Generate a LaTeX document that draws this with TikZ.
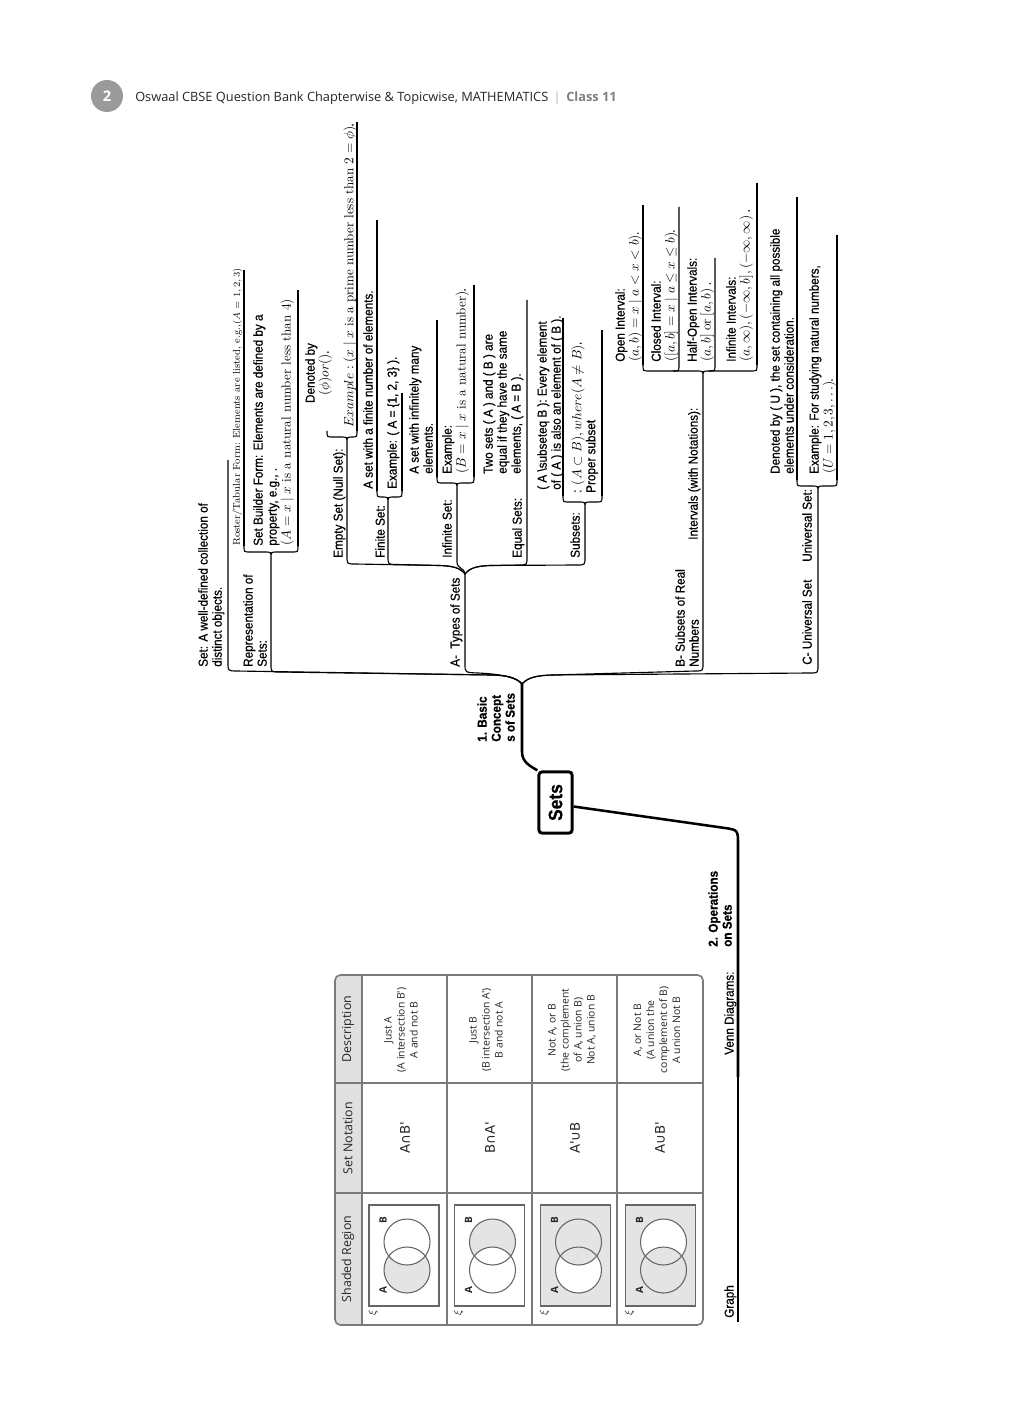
\documentclass[tikz,border=0pt]{standalone}
\usepackage[no-math]{fontspec}
\newfontfamily\mmfam{Liberation Sans}[FakeStretch=0.9,FakeBold=0.5]
\newfontfamily\osans{Open Sans}
\newfontfamily\dvs{DejaVu Sans}
\newcommand\mmf{\mmfam\fontsize{9.75}{10.5}\selectfont}
\definecolor{tline}{HTML}{7A7A7A}
\definecolor{hdrfill}{HTML}{E0E0E0}
\definecolor{vfill}{HTML}{E4E4E4}
\definecolor{vline}{HTML}{666666}
\definecolor{hcirc}{HTML}{9A9A9A}
\newcommand\mybrace[4]{\draw[ln] (#1,#4-6) .. controls (#1,#4) .. (#1+6,#4) -- (#3-6,#4) .. controls (#3,#4) .. (#3,#4+6) .. controls (#3,#4) .. (#3+6,#4) -- (#2-6,#4) .. controls (#2,#4) .. (#2,#4-6);}
\begin{document}
\begin{tikzpicture}[x=0.75pt,y=-0.75pt,
  ln/.style={line width=0.85pt},
  thk/.style={line width=1.9pt},
  txt/.style={rotate=90,anchor=north west,align=left,inner sep=0pt,font=\mmf},
  hd/.style={rotate=90,anchor=center,inner sep=0pt,font=\osans\fontsize{9.3}{11}\selectfont,text=black!85},
  ds/.style={rotate=90,anchor=center,align=center,inner sep=0pt,font=\osans\fontsize{7.8}{9.75}\selectfont,text=black!85},
  sn/.style={rotate=90,anchor=center,inner sep=0pt,font=\dvs\fontsize{10}{12}\selectfont,text=black!85},
  vl/.style={rotate=90,anchor=center,inner sep=0pt,font=\osans\bfseries\fontsize{7.5}{8}\selectfont,text=black!85},
  vbox/.style={draw=vline,line width=1pt},
  vcirc/.style={draw=vline,line width=0.8pt}]
\fill[white] (0,0) rectangle (1024,1408);
\useasboundingbox (0,0) rectangle (1024,1408);

% ---------- page header ----------
\fill[hcirc] (107,96) circle[radius=12pt];
\node[font=\osans\bfseries\fontsize{11}{13}\selectfont,text=white] (pg) at (107,96) {2};
\node[anchor=base west,inner sep=0pt,font=\osans\fontsize{9.6}{11}\selectfont,text=black!85] (title) at (135,102)
  {Oswaal CBSE Question Bank Chapterwise \& Topicwise, MATHEMATICS {\color{black!30}\,|\,} {\color{black!50}\bfseries Class 11}};

% ---------- central node ----------
\node[draw,line width=2.2pt,rounded corners=2.5pt,rotate=90,minimum width=46pt,minimum height=25pt,inner sep=0pt,
  font=\mmfam\bfseries\fontsize{14.5}{16}\selectfont] (sets) at (555.5,802.5) {Sets};

% ---------- branch 1 ----------
\node[txt,font=\mmf\bfseries] (basic) at (477,742) {1. Basic\\Concept\\s of Sets};
\coordinate (J1) at (522,684);
\draw[thk] (sets.north east) .. controls (530,766) and (522,762) .. (522,752) -- (J1);

\node[txt] (set) at (198,667) {Set: A well-defined collection of\\distinct objects.};
\node[txt] (rep) at (243,667) {Representation of\\Sets:};
\node[txt,font=\rmfamily\fontsize{7.5}{9}\selectfont] (roster) at (232,546) {Roster/Tabular Form: Elements are listed, e.g.,$(A = 1, 2, 3)$};
\node[txt] (builder) at (253,546) {Set Builder Form: Elements are defined by a\\property, e.g., .\\$(A = x \mid x \textrm{ is a natural number less than } 4)$};
\node[txt] (types) at (450,667) {A-\ \ Types of Sets};

\draw[ln] (J1) .. controls (516,677) and (506,675.5) .. (492,675) -- (236,671) .. controls (228,670.8) .. (228,663) -- (228,460);
\draw[ln] (J1) .. controls (516,677) and (506,675.5) .. (492,675) -- (279,672) .. controls (271,672) .. (271,664) -- (271,558);
\draw[ln] (J1) .. controls (516,677) and (500,674) .. (478,673) .. controls (465,672.5) .. (465,664) -- (465,574);
\draw[ln] (J1) .. controls (528,677) and (538,675.5) .. (552,675) -- (695,671) .. controls (703,671) .. (703,663) -- (703,377);
\draw[ln] (J1) .. controls (528,677) and (538,675.5) .. (552,675) -- (810,673) .. controls (818,673) .. (818,665) -- (818,492);

\mybrace{244}{298}{271}{552}
\draw[ln] (244,546) -- (244,270);
\draw[ln] (298,546) -- (298,290);

% types of sets
\coordinate (J2) at (465,574);
\draw[ln] (J2) .. controls (460,567.5) and (452,566) .. (440,565.5) -- (355,564) .. controls (347,564) .. (347,556) -- (347,443);
\draw[ln] (J2) .. controls (460,567.5) and (452,566) .. (440,565.5) -- (396,564.5) .. controls (388,564.5) .. (388,556) -- (388,503);
\draw[ln] (J2) .. controls (465,568) and (457,569) .. (457,562) -- (457,489);
\draw[ln] (J2) .. controls (470,567.5) and (478,566) .. (490,565.5) -- (519,565) .. controls (527,565) .. (527,557) -- (527,300);
\draw[ln] (J2) .. controls (470,567.5) and (478,566) .. (490,565.5) -- (577,565) .. controls (585,565) .. (585,557) -- (585,508);

\node[txt] (empty) at (333,558) {Empty Set (Null Set):};
\node[txt,align=center,anchor=north] (denoted) at (305,373) {Denoted by\\$(\phi)or()$.};
\node[txt] (exempty) at (343,428) {$Example : (x \mid x \textrm{ is a prime number less than } 2 = \phi)$.};
\mybrace{327}{357}{347}{437}
\draw[ln] (357,431) -- (357,122);

\node[txt] (finite) at (375,558) {Finite Set:};
\node[txt] (finA) at (363,489) {A set with a finite number of elements.};
\node[txt] (finB) at (387,489) {Example: ( A = \{1, 2, 3\} ).};
\mybrace{377}{402}{388}{497}
\draw[ln] (377,491) -- (377,220);
\draw[ln] (402,491) -- (402,393);

\node[txt] (infinite) at (442,558) {Infinite Set:};
\node[txt] (infA) at (409,474) {A set with infinitely many\\elements.};
\node[txt] (infB) at (442,474) {Example:\\$(B = x \mid x \textrm{ is a natural number})$.};
\mybrace{437}{474}{457}{483}
\draw[ln] (437,477) -- (437,320);
\draw[ln] (474,477) -- (474,285);

\node[txt] (equal) at (512,558) {Equal Sets:};
\node[txt] (eqA) at (483,474) {Two sets ( A ) and ( B ) are\\equal if they have the same\\elements, ( A = B ).};

\node[txt] (subsets) at (570,558) {Subsets:};
\node[txt] (subA) at (537,490) {( A \textbackslash subseteq B ): Every element\\of ( A ) is also an element of ( B ).};
\node[txt] (subB) at (571,493) {: $(A \subset B), where(A \neq B)$.\\Proper subset};
\mybrace{563}{602}{585}{502}
\draw[ln] (563,496) -- (563,318);
\draw[ln] (602,496) -- (602,330);

% subsets of real numbers
\node[txt] (realB) at (675,667) {B- Subsets of Real\\Numbers};
\node[txt] (intervals) at (688,540) {Intervals (with Notations):};
\node[txt] (open) at (615,362) {Open Interval:\\$(a,b) = x \mid a < x < b)$.};
\node[txt] (closed) at (651,362) {Closed Interval:\\$([a,b] = x \mid a \leq x \leq b)$.};
\node[txt] (half) at (687,362) {Half-Open Intervals:\\$(a,b]$ \textrm{or} $[a,b)$ .};
\node[txt] (infint) at (726,362) {Infinite Intervals:\\$(a,\infty),(-\infty,b],(-\infty,\infty)$ .};
\mybrace{643}{757}{703}{371}
\draw[ln] (643,365) -- (643,205);
\draw[ln] (757,365) -- (757,183);
\draw[ln] (673,371) .. controls (679,371) .. (679,365) -- (679,207);
\draw[ln] (709,371) .. controls (715,371) .. (715,365) -- (715,258);

% universal set
\node[txt] (univC) at (802,665) {C- Universal Set};
\node[txt] (univ) at (802,562) {Universal Set:};
\node[txt] (univA) at (770,474) {Denoted by ( U ), the set containing all possible\\elements under consideration.};
\node[txt] (univB) at (809,474) {Example: For studying natural numbers,\\$(U = 1, 2, 3, \ldots)$.};
\mybrace{797}{837}{818}{486}
\draw[ln] (797,480) -- (797,197);
\draw[ln] (837,480) -- (837,235);

% ---------- branch 2 ----------
\node[txt,font=\mmf\bfseries] (ops) at (708,947) {2. Operations\\on Sets};
\node[txt] (venn) at (724,1055) {Venn Diagrams:};
\node[txt] (graph) at (724,1318) {Graph};
\coordinate (V1) at (738,1077);
\draw[thk] ([yshift=-3pt]sets.south) -- (725,828) .. controls (738,830) .. (738,845) -- (V1);
\draw[ln] (V1) -- (738,1322);

% ---------- table ----------
\fill[hdrfill,rounded corners=4pt] (335,975) rectangle (372,1325);
\fill[white] (362,976) rectangle (702,1324);
\foreach \x in {362,447,532,617} \draw[tline,line width=0.9pt] (\x,975) -- (\x,1325);
\foreach \y in {1083,1193} \draw[tline,line width=0.9pt] (335,\y) -- (703,\y);
\draw[tline,line width=1.2pt,rounded corners=4pt] (335,975) rectangle (703,1325);

\node[hd] (hdesc) at (348,1029) {Description};
\node[hd] (hnot) at (348,1138) {Set Notation};
\node[hd] (hreg) at (348,1259) {Shaded Region};

\node[ds] (d1) at (401,1030) {Just A\\(A intersection B')\\A and not B};
\node[ds] (d2) at (486,1030) {Just B\\(B intersection A')\\B and not A};
\node[ds] (d3) at (572,1030) {Not A, or B\\(the complement\\of A, union B)\\Not A, union B};
\node[ds] (d4) at (657,1030) {A, or Not B\\(A union the\\complement of B)\\A union Not B};

\node[sn] (n1) at (405,1138) {A∩B'};
\node[sn] (n2) at (490,1138) {B∩A'};
\node[sn] (n3) at (575,1138) {A'∪B};
\node[sn] (n4) at (660,1138) {A∪B'};

% Venn 1: A minus B
\coordinate (a1) at (407,1270); \coordinate (b1) at (407,1242);
\fill[vfill] (a1) circle[radius=17.25pt];
\begin{scope}\clip (a1) circle[radius=17.25pt]; \fill[white] (b1) circle[radius=17.25pt];\end{scope}
% Venn 2: B minus A
\coordinate (a2) at (492.5,1270); \coordinate (b2) at (492.5,1242);
\fill[vfill] (b2) circle[radius=17.25pt];
\begin{scope}\clip (b2) circle[radius=17.25pt]; \fill[white] (a2) circle[radius=17.25pt];\end{scope}
% Venn 3: A' union B
\coordinate (a3) at (578.5,1270); \coordinate (b3) at (578.5,1242);
\fill[vfill] (541,1205) rectangle (610,1306);
\fill[white] (a3) circle[radius=17.25pt];
\begin{scope}\clip (a3) circle[radius=17.25pt]; \fill[vfill] (b3) circle[radius=17.25pt];\end{scope}
% Venn 4: A union B'
\coordinate (a4) at (663.5,1270); \coordinate (b4) at (663.5,1242);
\fill[vfill] (626,1205) rectangle (695,1306);
\fill[white] (b4) circle[radius=17.25pt];
\begin{scope}\clip (b4) circle[radius=17.25pt]; \fill[vfill] (a4) circle[radius=17.25pt];\end{scope}

\foreach \cx/\i in {404/1,489.5/2,575.5/3,660.5/4}{
  \draw[vbox] (\cx-35,1205) rectangle (\cx+35,1306);
  \draw[vcirc] (\cx+3,1242) circle[radius=17.25pt];
  \draw[vcirc] (\cx+3,1270) circle[radius=17.25pt];
  \node[vl] (lb\i) at (\cx-21,1220) {B};
  \node[vl] (la\i) at (\cx-21,1290) {A};
  \node[vl,font=\fontsize{8}{9}\selectfont] (xi\i) at (\cx-31,1313) {$\xi$};
}
\end{tikzpicture}
\end{document}
